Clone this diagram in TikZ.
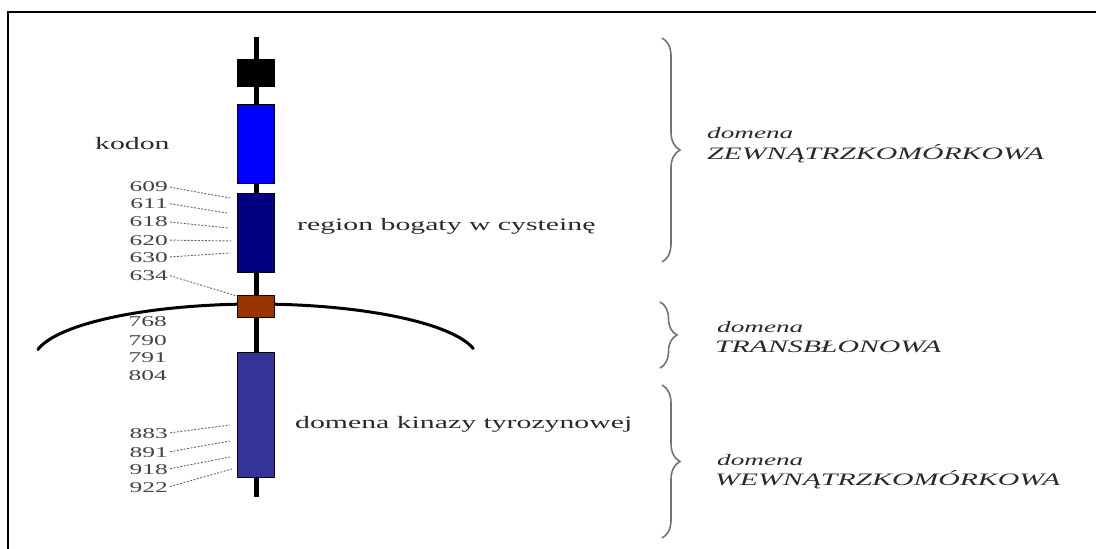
\documentclass[tikz,border=0pt]{standalone}
\usepackage{fontspec}
\setmainfont{Liberation Serif}
\usetikzlibrary{decorations.pathreplacing}
% wide-set text, as in the original layout
\newcommand{\hstretch}[1]{\scalebox{1.7}[1]{#1}}
\definecolor{boxblue}{HTML}{0000FF}
\definecolor{navyblue}{HTML}{000080}
\definecolor{rust}{HTML}{993300}
\definecolor{kinase}{HTML}{333399}
\definecolor{txt}{HTML}{2A2A2A}
\definecolor{numtxt}{HTML}{444444}
\begin{document}
\begin{tikzpicture}[x=1pt,y=-1pt,
  domainbox/.style={draw=black, line width=1pt, minimum width=37pt, inner sep=0pt},
  lbl/.style={inner sep=0pt, anchor=base west, text=txt, font=\fontsize{17.5}{20}\selectfont},
  ilbl/.style={lbl, font=\fontsize{17.5}{20}\selectfont\itshape},
  num/.style={inner sep=0pt, anchor=base east, text=numtxt, font=\fontsize{15}{17}\selectfont},
  leader/.style={draw=black!60, line width=0.9pt, dash pattern=on 2pt off 1.5pt, shorten <=2pt},
  curly/.style={draw=black!55, line width=1.6pt, decorate, decoration={brace, amplitude=18pt}},
 ]
\useasboundingbox (0,0) rectangle (1096,549);
\fill[white] (0,0) rectangle (1096,549);
% frame
\draw[line width=2pt] (8,549) -- (8,12) -- (1096,12);

% receptor axis
\coordinate (top) at (256,37);
\coordinate (bottom) at (256,497);
\draw[line width=5pt] (top) -- (bottom);

% cell membrane
\draw[line width=3pt, line cap=round]
  plot[domain=169.2:11.8, samples=80] ({256+222*cos(\x)},{360-56*sin(\x)});

% domains along the chain
\node[domainbox, fill=black, minimum height=27pt] (sig) at (256,72.5) {};
\node[domainbox, fill=boxblue, minimum height=79pt] (ext) at (256,143.5) {};
\node[domainbox, fill=navyblue, minimum height=79pt] (cys) at (256,232.5) {};
\node[domainbox, fill=rust, minimum height=22pt] (tm) at (256,306) {};
\node[domainbox, fill=kinase, minimum height=125pt] (kin) at (256,414.5) {};

% labels
\node[lbl] (kodon) at (95,149) {\hstretch{kodon}};
\node[lbl] (cysl) at (297,230) {\hstretch{region bogaty w cysteinę}};
\node[lbl] (kinl) at (295,428) {\hstretch{domena kinazy tyrozynowej}};

% codon numbers, cysteine-rich region
\node[num] (n609) at (168,191.7) {\hstretch{609}};
\node[num] (n611) at (168,208.3) {\hstretch{611}};
\node[num] (n618) at (168,226.7) {\hstretch{618}};
\node[num] (n620) at (168,245) {\hstretch{620}};
\node[num] (n630) at (168,262) {\hstretch{630}};
\node[num] (n634) at (168,280) {\hstretch{634}};
\coordinate (e609) at (230,198);
\coordinate (e611) at (227,213);
\coordinate (e618) at (228,228);
\coordinate (e620) at (232,241);
\coordinate (e630) at (230,253);
\coordinate (e634) at (237,296);
\foreach \n in {609,611,618,620,630,634}
  \draw[leader] (n\n.east) -- (e\n);

% transmembrane numbers
\node[num] (n768) at (167,326.7) {\hstretch{768}};
\node[num] (n790) at (167,345) {\hstretch{790}};
\node[num] (n791) at (167,362.7) {\hstretch{791}};
\node[num] (n804) at (167,380) {\hstretch{804}};

% kinase domain numbers
\node[num] (n883) at (168,438) {\hstretch{883}};
\node[num] (n891) at (168,457) {\hstretch{891}};
\node[num] (n918) at (168,474) {\hstretch{918}};
\node[num] (n922) at (168,492) {\hstretch{922}};
\coordinate (e883) at (230,425);
\coordinate (e891) at (230,441);
\coordinate (e918) at (230,457);
\coordinate (e922) at (232,469);
\foreach \n in {883,891,918,922}
  \draw[leader] (n\n.east) -- (e\n);

% braces
\coordinate (b1a) at (662,38);  \coordinate (b1b) at (662,262);
\coordinate (b2a) at (660,302); \coordinate (b2b) at (660,368);
\coordinate (b3a) at (662,385); \coordinate (b3b) at (662,538);
\draw[curly] (b1a) -- (b1b);
\draw[curly, decoration={brace, amplitude=17pt}] (b2a) -- (b2b);
\draw[curly] (b3a) -- (b3b);

% domain names
\node[ilbl, font=\fontsize{16}{18}\selectfont\itshape] (d1) at (707,138) {\hstretch{domena}};
\node[ilbl] (d1n) at (707,159) {\hstretch{ZEWNĄTRZKOMÓRKOWA}};
\node[ilbl, font=\fontsize{16}{18}\selectfont\itshape] (d2) at (717,332) {\hstretch{domena}};
\node[ilbl] (d2n) at (715,352) {\hstretch{TRANSBŁONOWA}};
\node[ilbl, font=\fontsize{16}{18}\selectfont\itshape] (d3) at (717,465) {\hstretch{domena}};
\node[ilbl] (d3n) at (715,485) {\hstretch{WEWNĄTRZKOMÓRKOWA}};
\end{tikzpicture}
\end{document}
